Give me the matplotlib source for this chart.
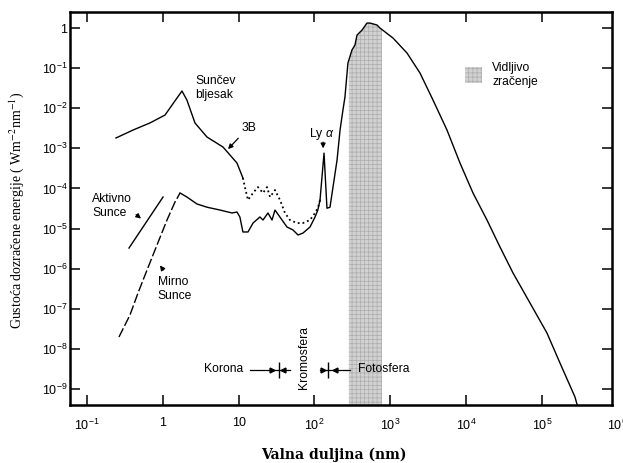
import numpy as np
import matplotlib
matplotlib.use('Agg')
import matplotlib.pyplot as plt
from matplotlib.patches import Rectangle

plt.rcParams['font.family'] = ['Liberation Sans', 'DejaVu Sans']
plt.rcParams['mathtext.fontset'] = 'custom'
plt.rcParams['mathtext.rm'] = 'Liberation Sans'
plt.rcParams['mathtext.it'] = 'Liberation Sans:italic'
plt.rcParams['hatch.linewidth'] = 0.5

# Sunčev bljesak 3B (X-zrake, pune crte)
flare_wl = [0.241, 0.405, 0.678, 1.07, 1.54, 1.79, 2.08, 2.66, 3.83, 6.22, 9.52, 11.4]
flare_irr = [1.81e-3, 2.86e-3, 4.3e-3, 6.77e-3, 1.80e-2, 2.69e-2, 1.60e-2, 4.28e-3,
             1.91e-3, 1.08e-3, 4.3e-4, 1.82e-4]
# bljesak, EUV dio (točkasto)
flare_euv_wl = [11.4, 12.1, 13.3, 15.5, 18.0, 21.0, 23.7, 26.0, 30.2, 35.2, 40.9, 47.6,
                58.9, 70.7, 87.5, 102, 111, 118.6]
flare_euv_irr = [1.82e-4, 1.08e-4, 5.14e-5, 7.7e-5, 1.08e-4, 7.7e-5, 1.08e-4, 6.1e-5,
                 9.1e-5, 5.14e-5, 2.44e-5, 1.63e-5, 1.37e-5, 1.37e-5, 1.63e-5, 2.44e-5,
                 3.24e-5, 5.1e-5]

# aktivno Sunce, X-zrake
active_wl = [0.358, 1.007]
active_irr = [3.26e-6, 6.1e-5]

# mirno Sunce, X-zrake (crtkano)
quiet_wl = [0.264, 0.369, 0.471, 0.619, 0.838, 1.007, 1.136, 1.448, 1.69]
quiet_irr = [1.97e-8, 6.97e-8, 2.47e-7, 9.2e-7, 3.88e-6, 9.2e-6, 1.63e-5, 4.58e-5, 7.7e-5]

# mirno Sunce, EUV
quiet_euv_wl = [1.69, 2.08, 2.82, 3.83, 5.69, 8.19, 9.52, 10.4, 11.4, 13.3, 15.5, 19.1,
                21.0, 24.4, 27.6, 30.2, 37.4, 43.5, 52.2, 60.8, 70.7, 87.5, 102, 111, 118.6]
quiet_euv_irr = [7.7e-5, 6.1e-5, 4.1e-5, 3.4e-5, 2.89e-5, 2.44e-5, 2.58e-5, 1.94e-5,
                 8.2e-6, 8.2e-6, 1.37e-5, 1.94e-5, 1.63e-5, 2.44e-5, 1.63e-5, 2.89e-5,
                 1.63e-5, 1.09e-5, 9.2e-6, 6.9e-6, 7.7e-6, 1.09e-5, 1.94e-5, 2.89e-5, 5.1e-5]

# UV, vidljivo, IR (Ly alfa pa fotosfera)
main_wl = [118.6, 134, 146.5, 160.6, 176, 199, 218, 238, 253, 277, 313, 343, 365, 425,
           494, 542, 670, 733, 1089, 1667, 2473, 3672, 5614, 8335, 12370, 18920, 28100,
           41700, 69900, 117000, 174000, 274000, 320000]
main_irr = [5.1e-5, 7.6e-4, 3.2e-5, 3.4e-5, 1.08e-4, 5.1e-4, 2.86e-3, 9.0e-3, 1.90e-2,
            0.134, 0.283, 0.377, 0.668, 0.89, 1.33, 1.33, 1.19, 1.0, 0.563, 0.238,
            7.55e-2, 1.60e-2, 2.86e-3, 4.30e-4, 7.7e-5, 1.63e-5, 3.46e-6, 7.8e-7, 1.39e-7,
            2.48e-8, 4.4e-9, 6.3e-10, 2.2e-10]

visible_band = (285, 780)

x_ticks = [1e-1, 1, 10, 1e2, 1e3, 1e4, 1e5]
x_tick_labels = ['10$^{-1}$', '1', '10', '10$^2$', '10$^3$', '10$^4$', '10$^5$']
y_ticks = [10.0 ** -k for k in range(0, 10)]
y_tick_labels = ['1'] + ['10$^{-%d}$' % k for k in range(1, 10)]

# regije emisije: (lijevo, desno, strelica >, oznaka, strelica <)
korona_marks = [14.1, 47.6, 27.5, 34.0, 38.5]
foto_marks = [118.6, 295, 130, 151, 186]
marks_level = 2.96e-9

fig = plt.figure(figsize=(6.23, 4.63), dpi=100)
ax = fig.add_axes([0.1124, 0.1253, 0.8699, 0.8487])
ax.set_xscale('log')
ax.set_yscale('log')
ax.set_xlim(10 ** -1.224, 10 ** 5.926)
ax.set_ylim(10 ** -9.401, 10 ** 0.399)

band_x = np.geomspace(visible_band[0], visible_band[1], 80)
band_top = 10 ** np.interp(np.log10(band_x), np.log10(main_wl), np.log10(main_irr))
ax.fill_between(band_x, 1e-12, band_top, facecolor='#d2d2d2', edgecolor='#acacac',
                hatch='++++', linewidth=0, zorder=1)

lc = 'black'
ax.plot(flare_wl, flare_irr, color=lc, lw=1.0, zorder=3)
ax.plot(flare_euv_wl, flare_euv_irr, color=lc, lw=1.3, ls=':', zorder=3)
ax.plot(active_wl, active_irr, color=lc, lw=1.0, zorder=3)
ax.plot(quiet_wl, quiet_irr, color=lc, lw=1.0, ls=(0, (7, 2)), zorder=3)
ax.plot(quiet_euv_wl, quiet_euv_irr, color=lc, lw=1.0, zorder=3)
ax.plot(main_wl, main_irr, color=lc, lw=1.0, zorder=3)

for m in (korona_marks, foto_marks):
    ax.plot([m[0], m[1]], [marks_level, marks_level], color=lc, lw=0.9)
    ax.plot([m[2]], [marks_level], marker='>', ms=3.5, color=lc)
    ax.plot([m[4]], [marks_level], marker='<', ms=3.5, color=lc)
    ax.plot([m[3]], [marks_level], marker='|', ms=11, mew=1.0, color=lc)

fs = 8.7
ax.text(0.231, 0.807, 'Sunčev\nbljesak', transform=ax.transAxes, fontsize=fs,
        ha='left', va='center', linespacing=1.15)
ax.text(0.317, 0.705, '3B', transform=ax.transAxes, fontsize=fs, ha='left', va='center')
ax.annotate('', xy=(0.288, 0.646), xytext=(0.314, 0.684), xycoords='axes fraction',
            arrowprops=dict(arrowstyle='-|>', color=lc, lw=0.9, mutation_scale=7))
ax.text(0.041, 0.506, 'Aktivno\nSunce', transform=ax.transAxes, fontsize=fs,
        ha='left', va='center', linespacing=1.15)
ax.annotate('', xy=(0.135, 0.470), xytext=(0.118, 0.489), xycoords='axes fraction',
            arrowprops=dict(arrowstyle='-|>', color=lc, lw=0.9, mutation_scale=7))
ax.text(0.162, 0.295, 'Mirno\nSunce', transform=ax.transAxes, fontsize=fs,
        ha='left', va='center', linespacing=1.15)
ax.annotate('', xy=(0.163, 0.361), xytext=(0.175, 0.338), xycoords='axes fraction',
            arrowprops=dict(arrowstyle='-|>', color=lc, lw=0.9, mutation_scale=7))
ax.text(0.465, 0.690, r'Ly $\alpha$', transform=ax.transAxes, fontsize=fs,
        ha='center', va='center')
ax.annotate('', xy=(0.467, 0.646), xytext=(0.467, 0.676), xycoords='axes fraction',
            arrowprops=dict(arrowstyle='-|>', color=lc, lw=0.9, mutation_scale=7))
ax.text(0.319, 0.092, 'Korona', transform=ax.transAxes, fontsize=fs, ha='right', va='center')
ax.text(0.432, 0.122, 'Kromosfera', transform=ax.transAxes, fontsize=fs, ha='center',
        va='center', rotation=90)
ax.text(0.531, 0.092, 'Fotosfera', transform=ax.transAxes, fontsize=fs, ha='left', va='center')

ax.add_patch(Rectangle((0.729, 0.819), 0.031, 0.041, transform=ax.transAxes,
                       facecolor='#d2d2d2', edgecolor='#acacac', hatch='++++', lw=0))
ax.text(0.779, 0.840, 'Vidljivo\nzračenje', transform=ax.transAxes, fontsize=fs,
        ha='left', va='center', linespacing=1.15)

ax.set_xticks(x_ticks)
ax.set_xticklabels(x_tick_labels)
ax.set_yticks(y_ticks)
ax.set_yticklabels(y_tick_labels)
ax.minorticks_off()
ax.tick_params(which='major', direction='in', length=7, width=1.1, top=True, right=True,
               labelsize=9)
ax.tick_params(axis='x', pad=9)
ax.tick_params(axis='y', pad=2)
# oznaka 10^6 je u originalu odrezana rubom slike
ax.text(1e6, -0.033, '10$^6$', transform=ax.get_xaxis_transform(), fontsize=9,
        ha='center', va='top', clip_on=False)
for s in ax.spines.values():
    s.set_linewidth(1.8)

ax.set_ylabel(r'Gustoća dozračene energije ( Wm$^{-2}$nm$^{-1}$)', fontsize=10,
              family='Liberation Serif', math_fontfamily='stix')
ax.yaxis.set_label_coords(-0.081, 0.494)
ax.set_xlabel('Valna duljina (nm)', fontsize=10, family='DejaVu Serif',
              fontweight='bold', va='center')
ax.xaxis.set_label_coords(0.487, -0.127)

fig.savefig('out.png', dpi=100)
plt.close(fig)
